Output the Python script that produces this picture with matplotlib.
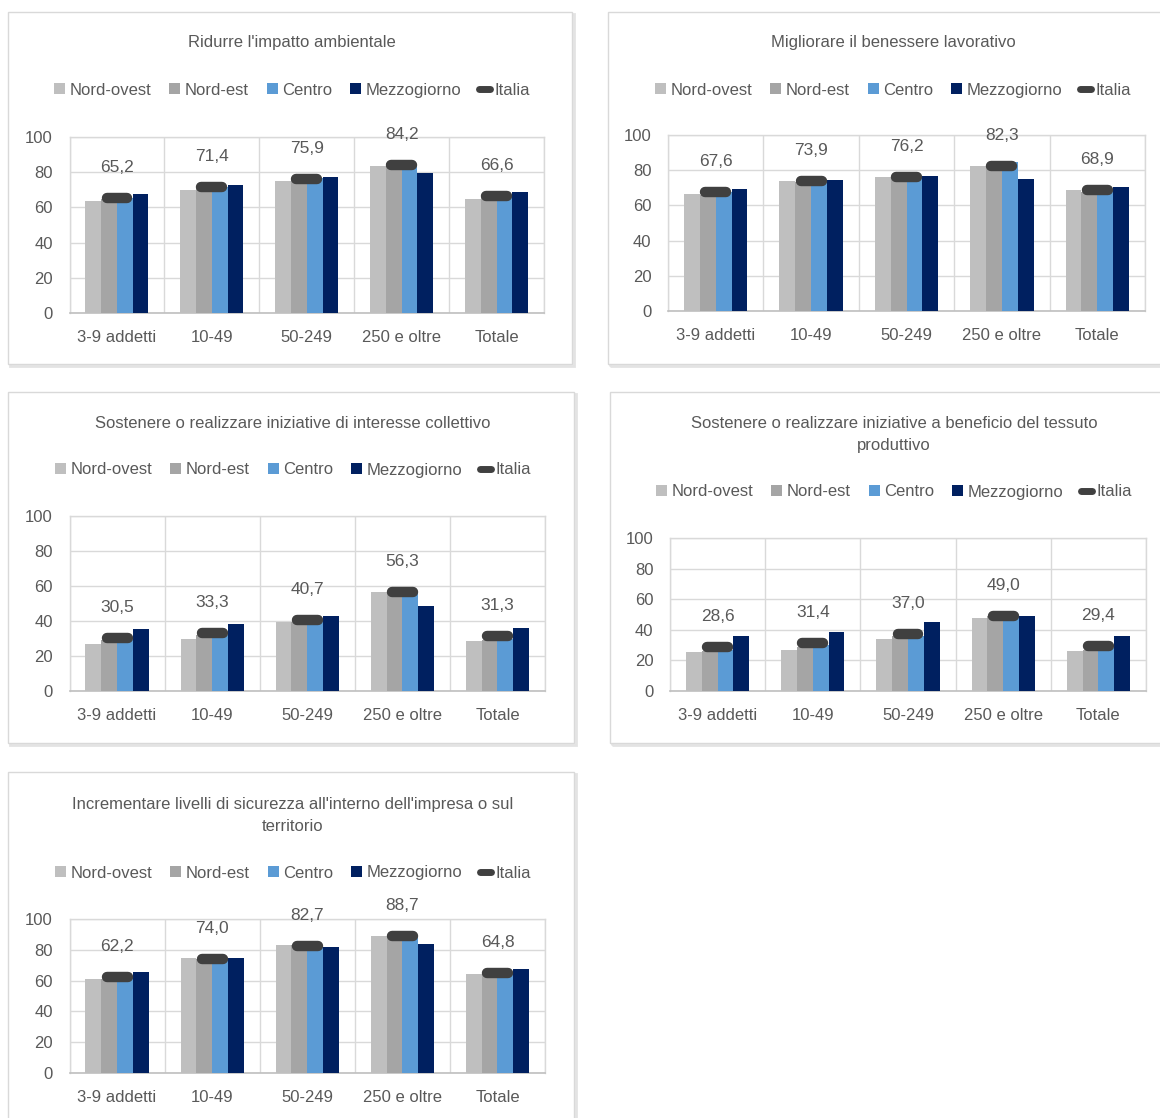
import matplotlib
matplotlib.use("Agg")
import matplotlib.pyplot as plt
from matplotlib.patches import Rectangle
from matplotlib.lines import Line2D
from matplotlib.patches import Patch
import numpy as np

plt.rcParams['font.family'] = ['Liberation Sans', 'DejaVu Sans']

categories = ["3-9 addetti", "10-49", "50-249", "250 e oltre", "Totale"]
series_names = ["Nord-ovest", "Nord-est", "Centro", "Mezzogiorno", "Italia"]

titles = [
    "Ridurre l'impatto ambientale",
    "Migliorare il benessere lavorativo",
    "Sostenere o realizzare iniziative di interesse collettivo",
    "Sostenere o realizzare iniziative a beneficio del tessuto\nproduttivo",
    "Incrementare livelli di sicurezza all'interno dell'impresa o sul\nterritorio",
]

# Panel 1
p1_nordovest = [63.4, 69.8, 74.9, 83.6, 64.7]
p1_nordest = [64.5, 71.0, 75.5, 85.0, 66.0]
p1_centro = [65.5, 71.5, 76.5, 83.8, 66.5]
p1_mezzogiorno = [67.5, 72.5, 77.2, 79.8, 68.9]
p1_italia = [65.2, 71.4, 75.9, 84.2, 66.6]

# Panel 2
p2_nordovest = [66.7, 74.1, 76.2, 82.5, 68.6]
p2_nordest = [66.0, 73.5, 75.5, 82.0, 67.5]
p2_centro = [67.6, 74.0, 76.0, 84.6, 68.5]
p2_mezzogiorno = [69.5, 74.3, 76.6, 75.0, 70.5]
p2_italia = [67.6, 73.9, 76.2, 82.3, 68.9]

# Panel 3
p3_nordovest = [27.1, 29.9, 39.2, 56.4, 28.4]
p3_nordest = [29.0, 32.0, 39.5, 57.0, 29.0]
p3_centro = [29.0, 32.0, 41.0, 56.0, 30.0]
p3_mezzogiorno = [35.4, 38.3, 42.8, 48.3, 36.2]
p3_italia = [30.5, 33.3, 40.7, 56.3, 31.3]

# Panel 4
p4_nordovest = [25.2, 27.0, 33.8, 47.8, 26.3]
p4_nordest = [26.0, 29.0, 36.0, 49.0, 27.0]
p4_centro = [27.0, 30.0, 36.0, 49.0, 28.0]
p4_mezzogiorno = [36.0, 38.6, 45.0, 48.7, 36.0]
p4_italia = [28.6, 31.4, 37.0, 49.0, 29.4]

# Panel 5
p5_nordovest = [61.2, 74.4, 83.3, 89.0, 64.3]
p5_nordest = [61.0, 74.0, 83.0, 89.0, 64.0]
p5_centro = [62.0, 74.0, 82.0, 89.0, 64.5]
p5_mezzogiorno = [65.4, 74.9, 81.5, 83.7, 67.8]
p5_italia = [62.2, 74.0, 82.7, 88.7, 64.8]

panels = [
    (p1_nordovest, p1_nordest, p1_centro, p1_mezzogiorno, p1_italia),
    (p2_nordovest, p2_nordest, p2_centro, p2_mezzogiorno, p2_italia),
    (p3_nordovest, p3_nordest, p3_centro, p3_mezzogiorno, p3_italia),
    (p4_nordovest, p4_nordest, p4_centro, p4_mezzogiorno, p4_italia),
    (p5_nordovest, p5_nordest, p5_centro, p5_mezzogiorno, p5_italia),
]

colors = ["#bfbfbf", "#a5a5a5", "#5b9bd5", "#002060"]
ital_color = "#404040"
txt = "#595959"

W, H = 1160, 1118
fig = plt.figure(figsize=(W / 100, H / 100), dpi=100)

def fx(x):
    return x / W

def fy(y):
    return 1 - y / H

layout = [
    dict(box=(8, 12, 572, 364), ax=(69.5, 137, 544, 313), ty=43, ly=90, cx=292),
    dict(box=(608, 12, 1170, 364), ax=(668, 135, 1145, 311), ty=43, ly=90, cx=893),
    dict(box=(8, 392, 574, 743), ax=(69.5, 516, 545, 691), ty=423, ly=470, cx=293),
    dict(box=(610, 392, 1170, 743), ax=(670, 538, 1146, 691), ty=434.5, ly=492, cx=894),
    dict(box=(8, 772, 574, 1130), ax=(69.5, 919, 545, 1073), ty=815.5, ly=873, cx=293),
]

x = np.arange(len(categories))
bw = 0.166
offs = np.array([-1.5, -0.5, 0.5, 1.5]) * bw
FS = 12

for pi, (lay, data) in enumerate(zip(layout, panels)):
    bx0, by0, bx1, by1 = lay['box']
    fig.patches.append(Rectangle((fx(bx0 + 2), fy(by1 + 2)), fx(bx1 - bx0), (by1 - by0) / H,
                                 transform=fig.transFigure, facecolor='none',
                                 edgecolor='#e3e3e3', lw=2.0, zorder=0))
    fig.patches.append(Rectangle((fx(bx0), fy(by1)), fx(bx1 - bx0), (by1 - by0) / H,
                                 transform=fig.transFigure, facecolor='white',
                                 edgecolor='#d9d9d9', lw=1.0, zorder=0.5))
    ax0, ayt, ax1, ayb = lay['ax']
    ax = fig.add_axes([fx(ax0), fy(ayb), fx(ax1 - ax0), (ayb - ayt) / H])
    ax.set_zorder(2)
    ax.patch.set_alpha(0)
    for si in range(4):
        ax.bar(x + offs[si], data[si], width=bw, color=colors[si], zorder=3,
               label=series_names[si])
    ital = data[4]
    for xi, v in zip(x, ital):
        ax.plot([xi - 0.11, xi + 0.11], [v, v], color=ital_color, lw=7.5,
                solid_capstyle='round', zorder=5)
        ax.annotate(f"{v:.1f}".replace('.', ','), (xi, v), xytext=(0, 22),
                    textcoords='offset points', ha='center', va='center',
                    fontsize=FS + 0.5, color=txt, zorder=6, annotation_clip=False)
    ax.set_xlim(-0.5, len(categories) - 0.5)
    ax.set_ylim(0, 100)
    ax.set_yticks(range(0, 101, 20))
    ax.set_xticks(x)
    ax.set_xticklabels(categories)
    ax.set_xticks(np.arange(-0.5, len(categories), 1), minor=True)
    ax.grid(axis='y', which='major', color='#d9d9d9', lw=1, zorder=0)
    ax.grid(axis='x', which='minor', color='#d9d9d9', lw=1, zorder=0)
    ax.tick_params(axis='both', which='both', length=0, labelsize=FS, colors=txt)
    ax.tick_params(axis='x', pad=12)
    ax.tick_params(axis='y', pad=12)
    for s in ['top', 'right', 'left']:
        ax.spines[s].set_color('#d9d9d9')
        ax.spines[s].set_linewidth(1)
    ax.spines['bottom'].set_color('#bfbfbf')
    ax.spines['bottom'].set_linewidth(1.2)

    fig.text(fx(lay['cx']), fy(lay['ty']), titles[pi], ha='center', va='center',
             fontsize=FS, color=txt, linespacing=1.65)

    handles = [Patch(facecolor=c, edgecolor='none') for c in colors]
    handles.append(Line2D([0], [0], color=ital_color, lw=5, solid_capstyle='round'))
    fig.legend(handles, series_names, loc='center',
               bbox_to_anchor=(fx(lay['cx']), fy(lay['ly'])),
               bbox_transform=fig.transFigure, ncol=5, frameon=False,
               fontsize=FS, handlelength=0.65, handleheight=0.65,
               handletextpad=0.25, columnspacing=1.1, labelcolor=txt)

fig.savefig("out.png", dpi=100, facecolor='white')
